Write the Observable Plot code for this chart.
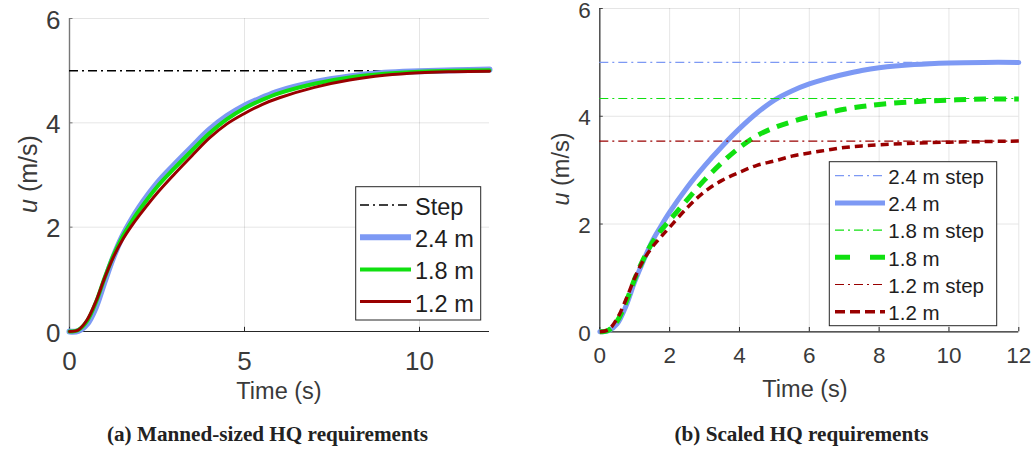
<!DOCTYPE html>
<html><head><meta charset="utf-8">
<script src="https://cdn.jsdelivr.net/npm/d3@7"></script>
<script src="https://cdn.jsdelivr.net/npm/@observablehq/plot@0.6"></script>
<style>
html,body{margin:0;padding:0;background:#fff;}
#wrap{position:relative;width:1034px;height:450px;overflow:hidden;background:#fff;}
.panel{position:absolute;top:0;}
.cap{position:absolute;top:423.8px;font-family:"Liberation Serif","Times New Roman",serif;font-weight:bold;font-size:21.2px;line-height:20px;white-space:nowrap;color:#222;transform:translateX(-50%);}
</style></head><body>
<div id="wrap"></div>
<script>
// ---- Panel (a): manned-sized HQ requirements ----
const timeA = [0,0.25,0.5,0.75,1,1.25,1.5,1.75,2,2.5,3,3.5,4,4.5,5,5.5,6,7,8,9,10,11,12];
const uA24  = [0,0.01,0.14,0.46,0.95,1.42,1.81,2.12,2.39,2.84,3.2,3.54,3.87,4.13,4.33,4.48,4.61,4.78,4.89,4.96,4.99,5.01,5.02];
const uA18  = [0,0.03,0.2,0.55,1.02,1.45,1.8,2.08,2.33,2.77,3.13,3.47,3.8,4.07,4.28,4.44,4.57,4.75,4.87,4.94,4.98,5.0,5.01];
const uA12  = [0,0.03,0.22,0.57,1.02,1.42,1.74,2.0,2.23,2.65,3.02,3.37,3.71,3.98,4.18,4.35,4.48,4.68,4.82,4.91,4.96,4.98,4.99];
const stepA = 5;
const xTicksA = [0,5,10];
const legendA = ["Step","2.4 m","1.8 m","1.2 m"];

// ---- Panel (b): scaled HQ requirements ----
const timeB = [0,0.25,0.5,0.75,1,1.25,1.5,1.75,2,2.5,3,3.5,4,4.5,5,5.5,6,6.5,7,7.5,8,9,10,11,12];
const uB24  = [0,0.02,0.15,0.48,0.93,1.32,1.68,1.96,2.22,2.68,3.08,3.44,3.77,4.06,4.30,4.47,4.60,4.70,4.78,4.85,4.90,4.96,4.99,5.0,5.0];
const uB18  = [0,0.03,0.2,0.55,0.98,1.35,1.65,1.88,2.07,2.45,2.82,3.14,3.42,3.64,3.79,3.90,3.99,4.06,4.13,4.18,4.22,4.27,4.30,4.32,4.32];
const uB12  = [0,0.04,0.25,0.6,1.0,1.33,1.57,1.76,1.94,2.30,2.60,2.81,2.96,3.09,3.17,3.26,3.32,3.37,3.42,3.45,3.47,3.50,3.52,3.53,3.54];
const stepB24 = 5.0, stepB18 = 4.33, stepB12 = 3.54;
const xTicksB = [0,2,4,6,8,10,12];
const legendB = ["2.4 m step","2.4 m","1.8 m step","1.8 m","1.2 m step","1.2 m"];

const yTicks = [0,2,4,6];
const xLabel = "Time (s)";
const captionA = "(a) Manned-sized HQ requirements";
const captionB = "(b) Scaled HQ requirements";

const BLUE = "#7d99f4", GREEN = "#10e010", RED = "#990000";
const DASHDOT = "9,4,2,4";
const SANS = "'Liberation Sans', Arial, Helvetica, sans-serif";
const CURVE = "catmull-rom";

const rows = (t, u) => t.map((x, i) => ({t: x, u: u[i]}));

function axesMarks(xTicks, fs, padX, leftSpine) {
  return [
    Plot.gridX(xTicks, {stroke: "#000", strokeOpacity: 0.1}),
    Plot.gridY(yTicks, {stroke: "#000", strokeOpacity: 0.1}),
    Plot.axisX(xTicks, {tickSize: 0, tickPadding: padX, fontSize: fs, fill: "#3a3a3a", label: null, tickFormat: d => String(d)}),
    Plot.axisY(yTicks, {tickSize: 0, tickPadding: 9, fontSize: fs, fill: "#3a3a3a", label: null, tickFormat: d => String(d), dy: 2}),
    Plot.ruleX([0], {stroke: leftSpine, strokeWidth: 1.4}),
    Plot.ruleY([0], {stroke: "#262626", strokeWidth: 1.2}),
    Plot.ruleX(xTicks, {x: d => d, y1: 0, y2: 0.08, stroke: "#262626"}),
    Plot.ruleY(yTicks, {y: d => d, x1: 0, x2: 0.1, stroke: leftSpine})
  ];
}

const plotA = Plot.plot({
  width: 520, height: 410,
  marginLeft: 69, marginRight: 31, marginTop: 18, marginBottom: 79,
  x: {domain: [0, 12]}, y: {domain: [0, 6]},
  style: {fontFamily: SANS, overflow: "visible", background: "transparent"},
  marks: [
    ...axesMarks(xTicksA, 26, 20, "#777"),
    Plot.ruleY([stepA], {stroke: "#000", strokeWidth: 1.5, strokeDasharray: DASHDOT}),
    Plot.line(rows(timeA, uA24), {x: "t", y: "u", stroke: BLUE, strokeWidth: 6, curve: CURVE}),
    Plot.line(rows(timeA, uA18), {x: "t", y: "u", stroke: GREEN, strokeWidth: 4, curve: CURVE}),
    Plot.line(rows(timeA, uA12), {x: "t", y: "u", stroke: RED, strokeWidth: 3, curve: CURVE})
  ]
});

const plotB = Plot.plot({
  width: 514, height: 410,
  marginLeft: 79.3, marginRight: 15.7, marginTop: 8, marginBottom: 78.7,
  x: {domain: [0, 12]}, y: {domain: [0, 6]},
  style: {fontFamily: SANS, overflow: "visible", background: "transparent"},
  marks: [
    ...axesMarks(xTicksB, 22.5, 15.7, "#444"),
    Plot.ruleY([stepB24], {stroke: BLUE, strokeWidth: 1.2, strokeDasharray: DASHDOT}),
    Plot.line(rows(timeB, uB24), {x: "t", y: "u", stroke: BLUE, strokeWidth: 5, curve: CURVE}),
    Plot.ruleY([stepB18], {stroke: GREEN, strokeWidth: 1.2, strokeDasharray: DASHDOT}),
    Plot.line(rows(timeB, uB18), {x: "t", y: "u", stroke: GREEN, strokeWidth: 5, strokeDasharray: "12,8", strokeLinecap: "butt", curve: CURVE}),
    Plot.ruleY([stepB12], {stroke: RED, strokeWidth: 1.2, strokeDasharray: DASHDOT}),
    Plot.line(rows(timeB, uB12), {x: "t", y: "u", stroke: RED, strokeWidth: 3.5, strokeDasharray: "8,5", strokeLinecap: "butt", curve: CURVE})
  ]
});

function addLabels(svg, xl, yl, fs) {
  const s = d3.select(svg);
  s.append("text").attr("x", xl.x).attr("y", xl.y).attr("text-anchor", "middle")
    .attr("font-family", SANS).attr("font-size", fs).attr("fill", "#3a3a3a").text(xLabel);
  const t = s.append("text").attr("transform", `translate(${yl.x},${yl.y}) rotate(-90)`)
    .attr("text-anchor", "middle").attr("dy", "0.35em")
    .attr("font-family", SANS).attr("font-size", yl.fs).attr("fill", "#3a3a3a");
  t.append("tspan").attr("font-style", "italic").text("u");
  t.append("tspan").text(" (m/s)");
}

function addLegend(svg, box, items) {
  const g = d3.select(svg).append("g");
  g.append("rect").attr("x", box.x).attr("y", box.y).attr("width", box.w).attr("height", box.h)
    .attr("fill", "#fff").attr("stroke", "#262626").attr("stroke-width", 1);
  items.forEach((it, i) => {
    const cy = box.y0 + i * box.dy;
    g.append("line").attr("x1", box.sx1).attr("x2", box.sx2).attr("y1", cy).attr("y2", cy)
      .attr("stroke", it.stroke).attr("stroke-width", it.width)
      .attr("stroke-dasharray", it.dash || null).attr("stroke-linecap", "butt");
    g.append("text").attr("x", box.tx).attr("y", cy + box.base).attr("text-anchor", "start")
      .attr("font-family", SANS).attr("font-size", box.fs).attr("fill", "#1e1e1e").text(it.label);
  });
}

addLabels(plotA, {x: 279, y: 399}, {x: 28, y: 174, fs: 25}, 23.5);
addLabels(plotB, {x: 285, y: 396.7}, {x: 41, y: 169, fs: 23.5}, 23.5);

addLegend(plotA, {x: 355.7, y: 186.7, w: 125, h: 133.3, y0: 205, dy: 32.2, sx1: 360, sx2: 411, tx: 415, base: 10, fs: 23.5}, [
  {label: legendA[0], stroke: "#000", width: 1.5, dash: DASHDOT},
  {label: legendA[1], stroke: BLUE, width: 6},
  {label: legendA[2], stroke: GREEN, width: 4},
  {label: legendA[3], stroke: RED, width: 3}
]);

addLegend(plotB, {x: 309.3, y: 161.7, w: 167.4, h: 164, y0: 175.7, dy: 27.2, sx1: 315, sx2: 365, tx: 368.3, base: 8.2, fs: 20.5}, [
  {label: legendB[0], stroke: BLUE, width: 1.2, dash: DASHDOT},
  {label: legendB[1], stroke: BLUE, width: 5},
  {label: legendB[2], stroke: GREEN, width: 1.2, dash: DASHDOT},
  {label: legendB[3], stroke: GREEN, width: 5, dash: "15,20"},
  {label: legendB[4], stroke: RED, width: 1.2, dash: DASHDOT},
  {label: legendB[5], stroke: RED, width: 3.5, dash: "10,5"}
]);

const wrap = document.getElementById("wrap");
const pa = document.createElement("div"); pa.className = "panel"; pa.style.left = "0px"; pa.appendChild(plotA);
const pb = document.createElement("div"); pb.className = "panel"; pb.style.left = "520px"; pb.appendChild(plotB);
wrap.appendChild(pa); wrap.appendChild(pb);
const ca = document.createElement("div"); ca.className = "cap"; ca.style.left = "267.5px"; ca.textContent = captionA;
const cb = document.createElement("div"); cb.className = "cap"; cb.style.left = "801.5px"; cb.textContent = captionB;
wrap.appendChild(ca); wrap.appendChild(cb);
</script>
</body></html>
